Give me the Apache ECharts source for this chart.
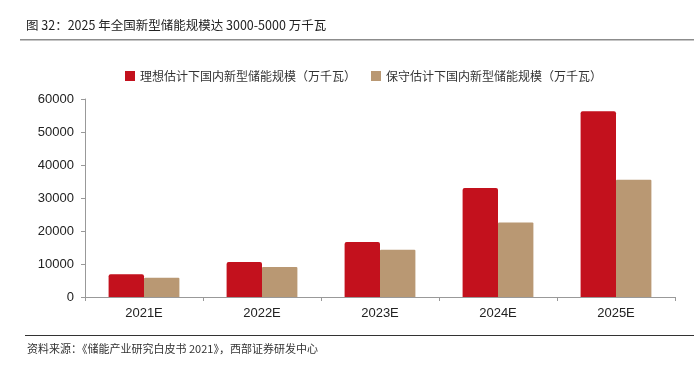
<!DOCTYPE html>
<html>
<head>
<meta charset="utf-8">
<script src="https://cdn.jsdelivr.net/npm/echarts@6/dist/echarts.min.js"></script>
<style>
    html, body { margin: 0; padding: 0; background: #fff; }
    #chart { width: 694px; height: 366px; }
</style>
</head>
<body>
<div id="chart"></div>
<script>
var years = ['2021E', '2022E', '2023E', '2024E', '2025E'];
var ideal = [6900, 10600, 16700, 33000, 56300];
var conservative = [5800, 9100, 14300, 22600, 35500];
var yTicks = [0, 60000, 10000];   // min, max, interval

var font = '"Noto Sans CJK SC", "Liberation Sans", sans-serif';

var chart = echarts.init(document.getElementById('chart'));

var option = {
    animation: false,
    textStyle: { fontFamily: font },
    title: {
        text: '图 32：2025 年全国新型储能规模达 3000-5000 万千瓦',
        left: 21,
        top: 14,
        textStyle: { fontSize: 12.5, fontWeight: 'normal', color: '#222', fontFamily: font }
    },
    graphic: [
        { type: 'rect', shape: { x: 20, y: 39, width: 674, height: 1.5 }, style: { fill: '#8c8c8c' } },
        { type: 'rect', shape: { x: 25, y: 335, width: 669, height: 1 }, style: { fill: '#333' } },
        {
            type: 'text', left: 27, top: 343,
            style: { text: '资料来源：《储能产业研究白皮书 2021》，西部证券研发中心', fontSize: 11, fill: '#333', fontFamily: font }
        }
    ],
    legend: {
        top: 65,
        left: 120,
        itemWidth: 10,
        itemHeight: 10,
        itemGap: 15,
        icon: 'rect',
        textStyle: { fontSize: 12, color: '#333', fontFamily: font },
        data: ['理想估计下国内新型储能规模（万千瓦）', '保守估计下国内新型储能规模（万千瓦）']
    },
    grid: { left: 85, right: 19, top: 99, bottom: 69 },
    xAxis: {
        type: 'category',
        data: years,
        axisLine: { lineStyle: { color: '#999' } },
        axisTick: { show: true, length: 4, lineStyle: { color: '#999' } },
        axisLabel: { fontSize: 13, color: '#222', margin: 10, fontFamily: '"Liberation Sans", sans-serif' }
    },
    yAxis: {
        type: 'value',
        min: yTicks[0],
        max: yTicks[1],
        interval: yTicks[2],
        axisLine: { show: true, lineStyle: { color: '#999' } },
        axisTick: { show: true, length: 4, lineStyle: { color: '#999' } },
        splitLine: { show: false },
        axisLabel: {
            fontSize: 13, color: '#222', margin: 11, fontFamily: '"Liberation Sans", sans-serif',
            formatter: function (v) { return String(v); }
        }
    },
    series: [
        {
            name: '理想估计下国内新型储能规模（万千瓦）',
            type: 'bar',
            data: ideal,
            barGap: '0%',
            barCategoryGap: '40%',
            itemStyle: { color: '#C3111D', borderRadius: [2, 2, 0, 0] }
        },
        {
            name: '保守估计下国内新型储能规模（万千瓦）',
            type: 'bar',
            data: conservative,
            itemStyle: { color: '#B99873', borderRadius: [1, 1, 0, 0] }
        }
    ]
};

chart.setOption(option);
</script>
</body>
</html>
